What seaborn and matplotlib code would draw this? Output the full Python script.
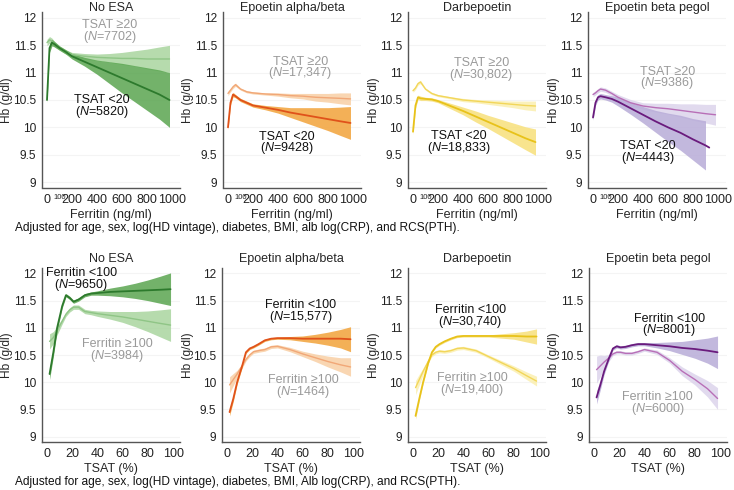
import numpy as np
import matplotlib
matplotlib.use("Agg")
import matplotlib.pyplot as plt
import seaborn as sns

# ---------------- data ----------------
panel_titles = ["No ESA", "Epoetin alpha/beta", "Darbepoetin", "Epoetin beta pegol"]
y_ticks = [9, 9.5, 10, 10.5, 11, 11.5, 12]
y_tick_labels = ["9", "9.5", "10", "10.5", "11", "11.5", "12"]
ferritin_ticks = [0, 100, 200, 400, 600, 800, 1000]
ferritin_tick_labels = ["0", "100", "200", "400", "600", "800", "1000"]
tsat_ticks = [0, 20, 40, 60, 80, 100]
tsat_tick_labels = ["0", "20", "40", "60", "80", "100"]

# Top row: Hb vs ferritin
ferritin_x = [0, 20, 40, 60, 100, 150, 200, 300, 400, 500, 600, 700, 800, 900, 980]
ferritin_x_pegol_low = [0, 20, 40, 60, 100, 150, 200, 300, 400, 500, 600, 700, 800, 900, 930]

noesa_tsat_hi = [11.55, 11.6, 11.58, 11.52, 11.45, 11.38, 11.33, 11.3, 11.28, 11.27, 11.26, 11.26, 11.25, 11.25, 11.25]
noesa_tsat_hi_ci = [0.06, 0.06, 0.05, 0.05, 0.04, 0.04, 0.04, 0.05, 0.06, 0.08, 0.11, 0.14, 0.18, 0.22, 0.25]
noesa_tsat_lo = [10.5, 11.45, 11.55, 11.52, 11.45, 11.38, 11.3, 11.2, 11.1, 11.0, 10.9, 10.8, 10.7, 10.6, 10.5]
noesa_tsat_lo_ci = [0.05, 0.08, 0.06, 0.05, 0.04, 0.04, 0.05, 0.08, 0.13, 0.2, 0.27, 0.33, 0.39, 0.45, 0.5]

epo_tsat_hi = [10.62, 10.68, 10.74, 10.78, 10.7, 10.65, 10.63, 10.61, 10.6, 10.58, 10.57, 10.55, 10.54, 10.53, 10.52]
epo_tsat_hi_ci = [0.04, 0.03, 0.03, 0.03, 0.02, 0.02, 0.02, 0.02, 0.03, 0.04, 0.05, 0.07, 0.08, 0.1, 0.11]
epo_tsat_lo = [10.0, 10.45, 10.6, 10.57, 10.5, 10.45, 10.4, 10.36, 10.32, 10.27, 10.23, 10.19, 10.15, 10.11, 10.08]
epo_tsat_lo_ci = [0.04, 0.04, 0.04, 0.03, 0.03, 0.03, 0.03, 0.04, 0.06, 0.09, 0.13, 0.17, 0.21, 0.26, 0.3]

darb_tsat_hi = [10.67, 10.72, 10.8, 10.83, 10.7, 10.62, 10.58, 10.54, 10.5, 10.48, 10.46, 10.44, 10.42, 10.4, 10.39]
darb_tsat_hi_ci = [0.03, 0.03, 0.03, 0.03, 0.02, 0.02, 0.02, 0.02, 0.03, 0.03, 0.04, 0.05, 0.06, 0.08, 0.09]
darb_tsat_lo = [9.92, 10.4, 10.55, 10.53, 10.52, 10.51, 10.48, 10.39, 10.3, 10.2, 10.1, 10.0, 9.9, 9.8, 9.73]
darb_tsat_lo_ci = [0.05, 0.05, 0.04, 0.04, 0.03, 0.03, 0.03, 0.05, 0.07, 0.1, 0.12, 0.15, 0.18, 0.21, 0.24]

peg_tsat_hi = [10.6, 10.63, 10.67, 10.7, 10.68, 10.62, 10.55, 10.45, 10.39, 10.36, 10.34, 10.31, 10.28, 10.25, 10.23]
peg_tsat_hi_ci = [0.04, 0.04, 0.04, 0.04, 0.04, 0.04, 0.05, 0.06, 0.06, 0.08, 0.1, 0.12, 0.15, 0.17, 0.19]
peg_tsat_lo = [10.18, 10.45, 10.55, 10.57, 10.55, 10.52, 10.47, 10.35, 10.23, 10.11, 10.0, 9.9, 9.78, 9.67, 9.63]
peg_tsat_lo_ci = [0.05, 0.05, 0.05, 0.05, 0.05, 0.06, 0.08, 0.11, 0.15, 0.2, 0.26, 0.32, 0.38, 0.45, np.nan]

# Bottom row: Hb vs TSAT
tsat_x = [2, 5, 8, 12, 15, 18, 21, 25, 30, 35, 40, 50, 60, 70, 80, 90, 98]

noesa_fer_lo = [10.15, 10.55, 11.0, 11.4, 11.6, 11.55, 11.48, 11.52, 11.6, 11.63, 11.64, 11.66, 11.67, 11.68, 11.69, 11.7, 11.71]
noesa_fer_lo_ci = [0.1, 0.08, 0.06, 0.04, 0.03, 0.03, 0.03, 0.03, 0.03, 0.03, 0.04, 0.07, 0.1, 0.14, 0.19, 0.25, 0.3]
noesa_fer_hi = [10.75, 10.82, 10.95, 11.12, 11.25, 11.33, 11.38, 11.38, 11.3, 11.28, 11.26, 11.23, 11.2, 11.16, 11.12, 11.08, 11.05]
noesa_fer_hi_ci = [0.14, 0.11, 0.08, 0.05, 0.04, 0.04, 0.04, 0.04, 0.04, 0.04, 0.05, 0.07, 0.1, 0.14, 0.19, 0.25, 0.3]

epo_fer_lo = [9.45, 9.7, 10.0, 10.3, 10.55, 10.62, 10.65, 10.7, 10.77, 10.8, 10.81, 10.81, 10.8, 10.8, 10.8, 10.8, 10.79]
epo_fer_lo_ci = [0.07, 0.05, 0.04, 0.03, 0.02, 0.02, 0.02, 0.02, 0.02, 0.02, 0.02, 0.03, 0.05, 0.08, 0.12, 0.17, 0.23]
epo_fer_hi = [9.95, 10.05, 10.15, 10.3, 10.42, 10.5, 10.56, 10.58, 10.6, 10.65, 10.66, 10.6, 10.52, 10.45, 10.38, 10.32, 10.28]
epo_fer_hi_ci = [0.15, 0.11, 0.07, 0.04, 0.03, 0.03, 0.03, 0.03, 0.03, 0.03, 0.03, 0.04, 0.05, 0.07, 0.1, 0.13, 0.17]

darb_fer_lo = [9.38, 9.7, 10.0, 10.35, 10.55, 10.65, 10.7, 10.75, 10.8, 10.84, 10.85, 10.85, 10.85, 10.85, 10.85, 10.84, 10.84]
darb_fer_lo_ci = [0.06, 0.04, 0.03, 0.02, 0.02, 0.02, 0.02, 0.02, 0.02, 0.02, 0.02, 0.02, 0.02, 0.04, 0.06, 0.1, 0.14]
darb_fer_hi = [9.9, 10.05, 10.2, 10.38, 10.5, 10.55, 10.57, 10.56, 10.58, 10.62, 10.63, 10.58, 10.47, 10.36, 10.25, 10.12, 10.02]
darb_fer_hi_ci = [0.13, 0.1, 0.06, 0.03, 0.03, 0.03, 0.03, 0.03, 0.03, 0.03, 0.03, 0.03, 0.03, 0.04, 0.05, 0.07, 0.09]

peg_fer_lo = [9.72, 9.95, 10.2, 10.45, 10.62, 10.66, 10.64, 10.65, 10.68, 10.7, 10.7, 10.68, 10.66, 10.63, 10.61, 10.58, 10.55]
peg_fer_lo_ci = [0.12, 0.09, 0.06, 0.04, 0.03, 0.03, 0.03, 0.03, 0.03, 0.03, 0.03, 0.05, 0.08, 0.12, 0.17, 0.23, 0.3]
peg_fer_hi = [10.23, 10.3, 10.37, 10.45, 10.52, 10.55, 10.55, 10.53, 10.53, 10.56, 10.6, 10.55, 10.4, 10.2, 10.05, 9.88, 9.7]
peg_fer_hi_ci = [0.25, 0.2, 0.12, 0.06, 0.03, 0.03, 0.03, 0.03, 0.03, 0.03, 0.03, 0.04, 0.05, 0.08, 0.1, 0.15, 0.2]

top_n_hi = ["7702", "17,347", "30,802", "9386"]
top_n_lo = ["5820", "9428", "18,833", "4443"]
bot_n_lo = ["9650", "15,577", "30,740", "8001"]
bot_n_hi = ["3984", "1464", "19,400", "6000"]

# label positions (data coords) : (x, y of first line)
top_lab_hi = [(500, 11.87), (580, 11.2), (545, 11.18), (594, 11.02)]
top_lab_lo = [(437, 10.5), (473, 9.83), (370, 9.84), (438, 9.65)]
bot_lab_lo = [(27, 12.0), (58.6, 11.42), (45.5, 11.33), (59.6, 11.17)]
bot_lab_hi = [(55.6, 10.7), (60.5, 10.04), (46.8, 10.07), (50.4, 9.73)]

# colours: (dark line, dark band, light line, light band)
palette = [
    ("#2d7a2d", "#5aa550", "#8fc586", "#a9d59f"),
    ("#e0521a", "#f2a33a", "#f1a777", "#f8cfa5"),
    ("#e8c21a", "#f7e07a", "#f2d65a", "#fbefb0"),
    ("#6a1b7d", "#b8acd8", "#b86fb7", "#dcd4ec"),
]

# ---------------- style ----------------
sns.set_style("white")
plt.rcParams["font.family"] = ["Liberation Sans", "DejaVu Sans"]
plt.rcParams["mathtext.fontset"] = "custom"
plt.rcParams["mathtext.rm"] = "Liberation Sans"
plt.rcParams["mathtext.it"] = "Liberation Sans:italic"

fig = plt.figure(figsize=(7.34, 4.9), dpi=100)
W, H = 734.0, 490.0
top_lefts = [42, 223, 408, 588]
bot_lefts = [42, 222, 408, 589]
ax_w = 138

top_data = [
    (ferritin_x, noesa_tsat_hi, noesa_tsat_hi_ci, ferritin_x, noesa_tsat_lo, noesa_tsat_lo_ci),
    (ferritin_x, epo_tsat_hi, epo_tsat_hi_ci, ferritin_x, epo_tsat_lo, epo_tsat_lo_ci),
    (ferritin_x, darb_tsat_hi, darb_tsat_hi_ci, ferritin_x, darb_tsat_lo, darb_tsat_lo_ci),
    (ferritin_x, peg_tsat_hi, peg_tsat_hi_ci, ferritin_x_pegol_low, peg_tsat_lo, peg_tsat_lo_ci),
]
bot_data = [
    (tsat_x, noesa_fer_hi, noesa_fer_hi_ci, tsat_x, noesa_fer_lo, noesa_fer_lo_ci),
    (tsat_x, epo_fer_hi, epo_fer_hi_ci, tsat_x, epo_fer_lo, epo_fer_lo_ci),
    (tsat_x, darb_fer_hi, darb_fer_hi_ci, tsat_x, darb_fer_lo, darb_fer_lo_ci),
    (tsat_x, peg_fer_hi, peg_fer_hi_ci, tsat_x, peg_fer_lo, peg_fer_lo_ci),
]

FS = 9


def style_axis(ax):
    ax.set_ylim(8.9, 12.1)
    ax.set_yticks(y_ticks)
    ax.set_yticklabels(y_tick_labels)
    for y in y_ticks:
        ax.axhline(y, color="#f4f4f4", lw=0.8, zorder=0)
    for s in ["top", "right"]:
        ax.spines[s].set_visible(False)
    for s in ["left", "bottom"]:
        ax.spines[s].set_color("#555555")
        ax.spines[s].set_linewidth(1.0)
    ax.tick_params(axis="both", which="both", length=3, width=0.8, color="#555555",
                   labelsize=FS, pad=1.5, labelcolor="#222222")
    ax.tick_params(axis="y", labelsize=8.6, pad=1)
    ax.set_ylabel("Hb (g/dl)", fontsize=8.6)
    ax.yaxis.set_label_coords(-28.5 / ax_w, 0.5)


def draw_panel(ax, data, cols):
    xh, yh, ch, xl, yl, cl = data
    dline, dband, lline, lband = cols
    xh = np.array(xh, float); yh = np.array(yh, float); ch = np.array(ch, float)
    xl = np.array(xl, float); yl = np.array(yl, float); cl = np.array(cl, float)
    ax.fill_between(xh, yh - ch, yh + ch, color=lband, alpha=0.85, lw=0, zorder=1)
    ax.fill_between(xl, yl - cl, yl + cl, color=dband, alpha=0.85, lw=0, zorder=2)
    sns.lineplot(x=xh, y=yh, ax=ax, color=lline, linewidth=1.0, zorder=3)
    sns.lineplot(x=xl, y=yl, ax=ax, color=dline, linewidth=1.3, zorder=4)


def label(ax, pos, name, n, color):
    x, y = pos
    ax.text(x, y, name, ha="center", va="center", fontsize=FS, color=color)
    ax.text(x, y - 0.215, "(" + r"$\it{N}$" + "=" + n + ")", ha="center", va="center",
            fontsize=FS, color=color)


for i in range(4):
    ax = fig.add_axes([top_lefts[i] / W, 1 - 187.5 / H, ax_w / W, 175 / H])
    draw_panel(ax, top_data[i], palette[i])
    style_axis(ax)
    ax.set_xlim(-40, 1064)
    ax.set_xticks(ferritin_ticks)
    ax.set_xticklabels(ferritin_tick_labels)
    for t in ax.get_xticklabels():
        if t.get_text() == "100":
            t.set_fontsize(5.5)
    ax.set_xlabel("Ferritin (ng/ml)", fontsize=FS, labelpad=2)
    ax.set_title(panel_titles[i], fontsize=FS, pad=1)
    label(ax, top_lab_hi[i], "TSAT \u226520", top_n_hi[i], "#9a9a9a")
    label(ax, top_lab_lo[i], "TSAT <20", top_n_lo[i], "#111111")

    ax2 = fig.add_axes([bot_lefts[i] / W, 1 - 442 / H, ax_w / W, 174 / H])
    draw_panel(ax2, bot_data[i], palette[i])
    style_axis(ax2)
    ax2.set_xlim(-4, 105.5)
    ax2.set_xticks(tsat_ticks)
    ax2.set_xticklabels(tsat_tick_labels)
    ax2.set_xlabel("TSAT (%)", fontsize=FS, labelpad=2)
    ax2.set_title(panel_titles[i], fontsize=FS, pad=4)
    label(ax2, bot_lab_lo[i], "Ferritin <100", bot_n_lo[i], "#111111")
    label(ax2, bot_lab_hi[i], "Ferritin \u2265100", bot_n_hi[i], "#9a9a9a")

fig.text(15 / W, 1 - 228 / H,
         "Adjusted for age, sex, log(HD vintage), diabetes, BMI, alb log(CRP), and RCS(PTH).",
         fontsize=8.6, va="center", ha="left", color="#111111")
fig.text(15 / W, 1 - 482 / H,
         "Adjusted for age, sex, log(HD vintage), diabetes, BMI, Alb log(CRP), and RCS(PTH).",
         fontsize=8.6, va="center", ha="left", color="#111111")

fig.savefig("out.png", dpi=100)
